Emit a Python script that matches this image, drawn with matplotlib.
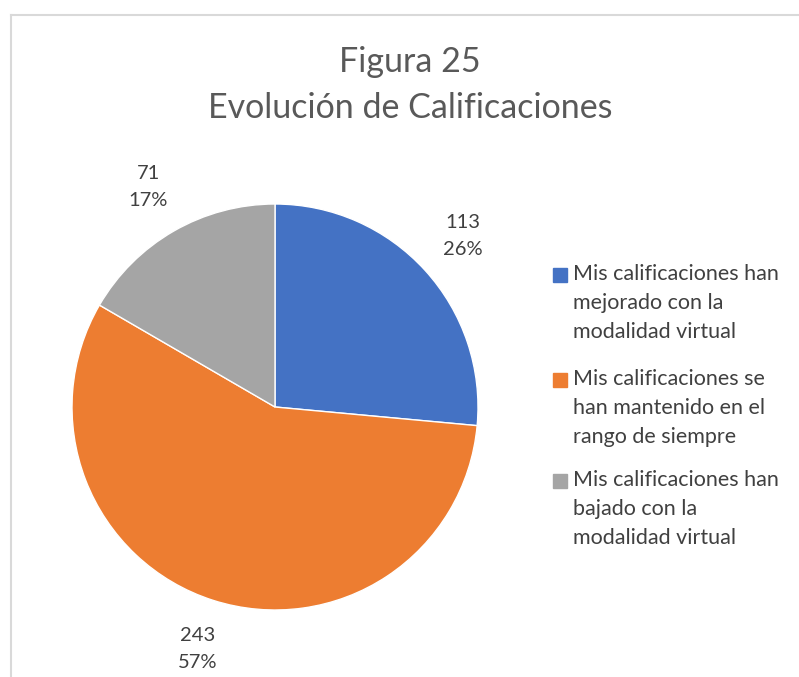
import matplotlib.pyplot as plt
from matplotlib.patches import Rectangle
from matplotlib.lines import Line2D

plt.rcParams['font.family'] = ['Lato', 'DejaVu Sans']

W, H = 799, 677
counts = [113, 243, 71]
percents = ['26%', '57%', '17%']
labels = ['Mis calificaciones han\nmejorado con la\nmodalidad virtual',
          'Mis calificaciones se\nhan mantenido en el\nrango de siempre',
          'Mis calificaciones han\nbajado con la\nmodalidad virtual']
colors = ['#4472C4', '#ED7D31', '#A5A5A5']
title = 'Figura 25\nEvolución de Calificaciones'

fig = plt.figure(figsize=(W / 100, H / 100), dpi=100)

# pie axes: centre (275, 407) px, radius 203 px
cx, cy, r = 275, 407, 203
ax = fig.add_axes([(cx - r) / W, (H - cy - r) / H, 2 * r / W, 2 * r / H])
wedge_labels = [f'{c}\n{p}' for c, p in zip(counts, percents)]
wedges, texts = ax.pie(counts, colors=colors, startangle=90, counterclock=False,
                       labels=wedge_labels, labeldistance=1.25,
                       wedgeprops=dict(edgecolor='white', linewidth=1),
                       textprops=dict(fontsize=14.5, color='#404040', linespacing=1.7))
for t in texts:
    t.set_ha('center')
    t.set_va('center')
ax.set_xlim(-1, 1)
ax.set_ylim(-1, 1)

fig.text(410 / W, 1 - 85 / H, title, ha='center', va='center', fontsize=24.5,
         color='#595959', linespacing=1.52)

# legend drawn by hand so the square lines up with the first text line
leg_top = [268, 373, 474]
for col, lab, y in zip(colors, labels, leg_top):
    fig.add_artist(Rectangle((553 / W, 1 - (y + 14) / H), 14 / W, 14 / H,
                             transform=fig.transFigure, color=col))
    fig.text(573 / W, 1 - (y - 4) / H, lab, ha='left', va='top', fontsize=15.5,
             color='#404040', linespacing=1.55)

# light chart border (top and left visible)
fig.add_artist(Line2D([11 / W, 1], [1 - 15 / H, 1 - 15 / H], transform=fig.transFigure,
                      color='#D9D9D9', linewidth=1.5))
fig.add_artist(Line2D([11 / W, 11 / W], [0, 1 - 15 / H], transform=fig.transFigure,
                      color='#D9D9D9', linewidth=1.5))

fig.savefig('out.png', dpi=100)
